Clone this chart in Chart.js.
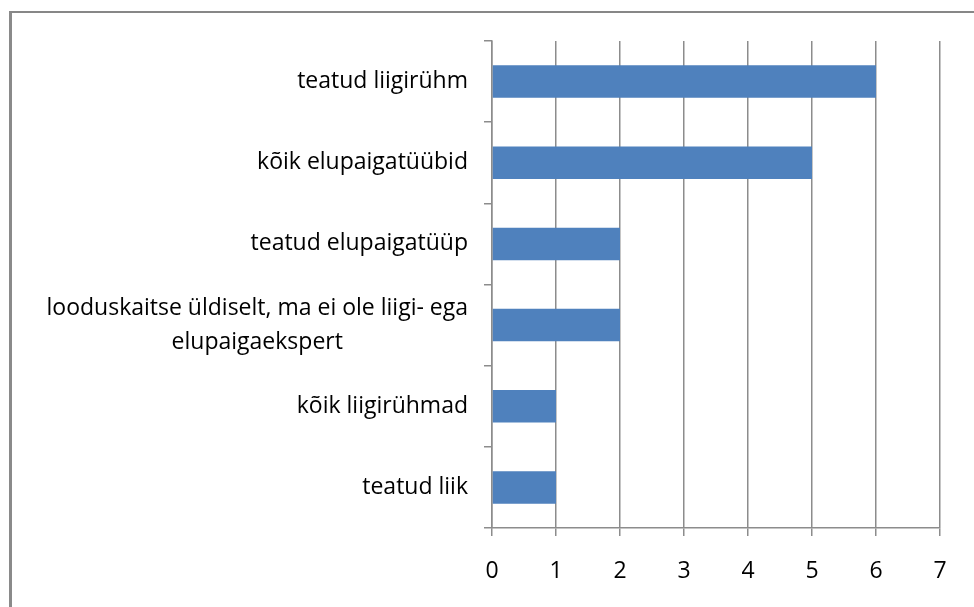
<!DOCTYPE html>
<html>
<head>
<meta charset="utf-8">
<script src="https://cdn.jsdelivr.net/npm/chart.js@4/dist/chart.umd.min.js"></script>
<style>
html,body{margin:0;padding:0;background:#fff;overflow:hidden;}
#wrap{position:absolute;left:0;top:0;width:974px;height:607px;}
#frame{position:absolute;left:9px;top:11px;width:2000px;height:2000px;border-top:2px solid #878787;border-left:3px solid #8a8a8a;pointer-events:none;}
</style>
</head>
<body>
<div id="wrap"><canvas id="c" width="974" height="607"></canvas></div>
<div id="frame"></div>
<script>
const categories = [
  ["teatud liigirühm"],
  ["kõik elupaigatüübid"],
  ["teatud elupaigatüüp"],
  ["looduskaitse üldiselt, ma ei ole liigi- ega", "elupaigaekspert"],
  ["kõik liigirühmad"],
  ["teatud liik"]
];
const values = [6, 5, 2, 2, 1, 1];
const xTicks = [0, 1, 2, 3, 4, 5, 6, 7];

const FONT = "'Open Sans', sans-serif";

const labelPlugin = {
  id: 'catLabels',
  afterDraw(chart) {
    const ctx = chart.ctx;
    const y = chart.scales.y;
    ctx.save();
    ctx.font = "23px " + FONT;
    ctx.fillStyle = "#000";
    ctx.textBaseline = "middle";
    ctx.textAlign = "center";
    const lh = 34;
    categories.forEach((lines, i) => {
      const cy = y.getPixelForValue(i);
      const maxW = Math.max(...lines.map(l => ctx.measureText(l).width));
      const right = y.right - 24;
      const cx = right - maxW / 2;
      const top = cy - (lines.length - 1) * lh / 2;
      lines.forEach((l, k) => ctx.fillText(l, cx, top + k * lh));
    });
    ctx.restore();
  }
};

new Chart(document.getElementById('c'), {
  type: 'bar',
  data: {
    labels: categories.map(l => l.join(' ')),
    datasets: [{
      data: values,
      backgroundColor: '#4f81bd',
      borderWidth: 0,
      barPercentage: 0.4,
      categoryPercentage: 1
    }]
  },
  options: {
    indexAxis: 'y',
    responsive: false,
    animation: false,
    events: [],
    layout: { padding: { top: 41, right: 34, left: 0, bottom: 0 } },
    plugins: { legend: { display: false }, tooltip: { enabled: false } },
    scales: {
      x: {
        min: 0, max: 7,
        afterBuildTicks(s) { s.ticks = xTicks.map(v => ({ value: v })); },
        afterFit(s) { s.height = 79; },
        grid: { color: '#8c8c8c', lineWidth: 1.5, drawTicks: true, tickLength: 8, tickColor: '#8c8c8c' },
        border: { color: '#8c8c8c', width: 1.5 },
        ticks: { color: '#000', font: { family: FONT, size: 23 }, padding: 22 }
      },
      y: {
        afterFit(s) { s.width = 492; },
        grid: { drawOnChartArea: false, drawTicks: true, tickLength: 8, color: '#8c8c8c', lineWidth: 1.5, offset: true },
        border: { color: '#8c8c8c', width: 1.5 },
        ticks: { display: false }
      }
    }
  },
  plugins: [labelPlugin]
});
</script>
</body>
</html>
